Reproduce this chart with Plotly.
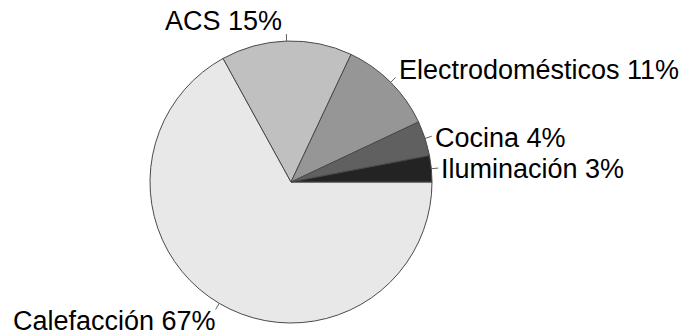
import math
import plotly.graph_objects as go

# Energy use breakdown (percent), listed clockwise from 3 o'clock
labels = ["Calefacción", "ACS", "Electrodomésticos", "Cocina", "Iluminación"]
values = [67, 15, 11, 4, 3]
colors = ["#e8e8e8", "#c0c0c0", "#969696", "#606060", "#232323"]

W, H = 691, 336
CX, CY, R = 291, 182, 141  # pie centre and radius in pixels

fig = go.Figure(go.Pie(
    labels=labels,
    values=values,
    sort=False,
    direction="clockwise",
    rotation=90,
    marker=dict(colors=colors, line=dict(color="#4a4a4a", width=1)),
    textinfo="none",
    hoverinfo="label+percent",
    domain=dict(x=[(CX - R) / W, (CX + R) / W],
                y=[(H - CY - R) / H, (H - CY + R) / H]),
    showlegend=False,
))

# label text placement (pixel anchor, horizontal anchor)
label_pos = {
    "ACS": (284, 21, "right"),
    "Electrodomésticos": (397, 70, "left"),
    "Cocina": (433, 138, "left"),
    "Iluminación": (439, 169, "left"),
    "Calefacción": (11, 321, "left"),
}

total = sum(values)
cum = 0
shapes = []
annotations = []
for lab, v in zip(labels, values):
    # mid-angle of the slice, measured clockwise from 3 o'clock
    mid = -(cum + v / 2) / total * 2 * math.pi
    cum += v
    x0 = CX + R * math.cos(mid)
    y0 = CY - R * math.sin(mid)
    x1 = CX + (R + 7) * math.cos(mid)
    y1 = CY - (R + 7) * math.sin(mid)
    shapes.append(dict(type="line", xref="paper", yref="paper",
                       x0=x0 / W, y0=1 - y0 / H, x1=x1 / W, y1=1 - y1 / H,
                       line=dict(color="#606060", width=1)))
    px, py, anchor = label_pos[lab]
    annotations.append(dict(
        text=f"{lab} {round(v / total * 100)}%",
        x=px / W, y=1 - py / H, xref="paper", yref="paper",
        xanchor=anchor, yanchor="middle", showarrow=False,
        font=dict(family="Liberation Sans, Arial, sans-serif", size=27, color="#000000"),
    ))

fig.update_layout(
    width=W, height=H,
    margin=dict(l=0, r=0, t=0, b=0),
    paper_bgcolor="white",
    plot_bgcolor="white",
    shapes=shapes,
    annotations=annotations,
)

fig.write_html("out.html")
